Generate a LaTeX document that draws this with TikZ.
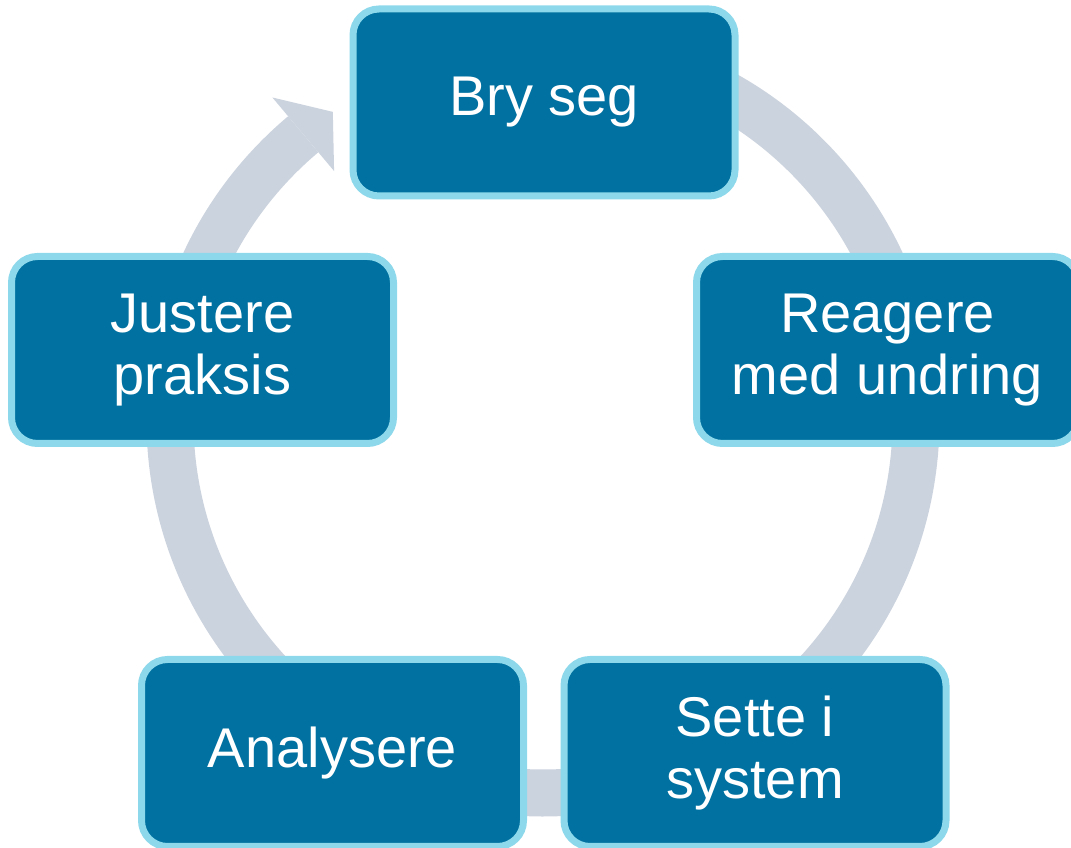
\documentclass[tikz,border=0pt]{standalone}
\usepackage{fontspec}
\setmainfont{Liberation Sans}
\definecolor{boxfill}{RGB}{0,113,160}
\definecolor{boxline}{RGB}{141,216,234}
\definecolor{ringgray}{RGB}{203,211,222}
\begin{document}
\begin{tikzpicture}[x=1pt,y=1pt,
  stage/.style={draw=boxline, line width=7pt, fill=boxfill, rounded corners=26pt,
    minimum width=382pt, minimum height=187pt, inner sep=0pt, text=white,
    align=center, font=\fontsize{56}{62}\selectfont}]
\useasboundingbox (0,0) rectangle (1071,848);
\coordinate (C) at (543,428);
% ring
\fill[ringgray] ([shift={(130:396.5pt)}]C) arc[start angle=130, end angle=450, radius=396.5pt]
  -- ([shift={(90:349.5pt)}]C) arc[start angle=450, end angle=130, radius=349.5pt] -- cycle;
% arrow head
\fill[ringgray] ([shift={(130:421pt)}]C) -- ([shift={(124.3:373pt)}]C) -- ([shift={(130:325pt)}]C) -- cycle;
% stages
\node[stage] (bry) at (544,745.5) {Bry seg};
\node[stage] (reagere) at (887.5,498) {Reagere\\med undring};
\node[stage] (sette) at (755,95) {Sette i\\system};
\node[stage] (analysere) at (332.5,95) {Analysere};
\node[stage] (justere) at (202.5,498) {Justere\\praksis};
\end{tikzpicture}
\end{document}
